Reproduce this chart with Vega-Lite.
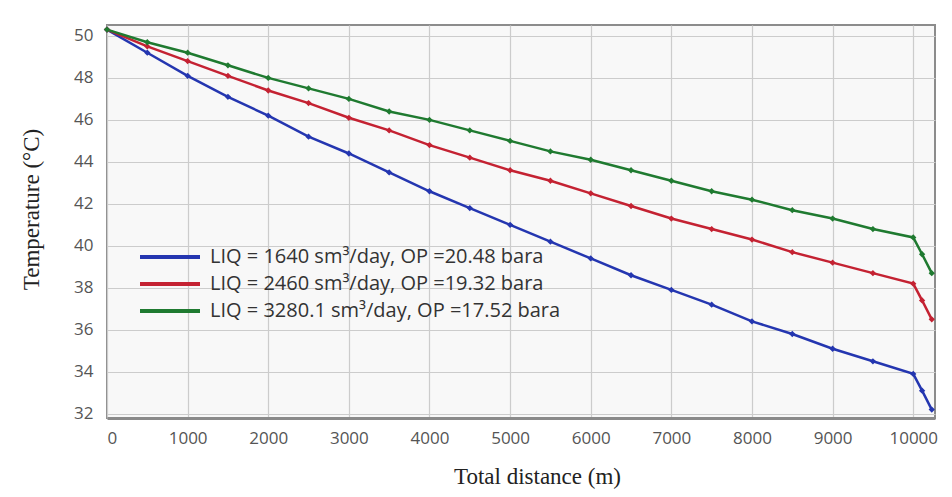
{
  "$schema": "https://vega.github.io/schema/vega-lite/v6.json",
  "autosize": {"type": "none"},
  "width": 828,
  "height": 393,
  "padding": {"left": 107, "top": 25, "right": 17, "bottom": 79},
  "background": "white",
  "config": {
    "view": {"stroke": "#8c8c8c", "strokeWidth": 2, "fill": "#f8f8f8"},
    "axis": {
      "labelFont": "Open Sans", "labelFontSize": 17, "labelColor": "#555555",
      "titleFont": "Liberation Serif", "titleFontSize": 23, "titleFontWeight": "normal", "titleColor": "#222222",
      "gridColor": "#cccccc", "gridWidth": 1.2, "ticks": false, "domain": false
    },
    "legend": {"labelFont": "Open Sans", "labelFontSize": 20, "labelColor": "#333333", "labelLimit": 0}
  },
  "data": {"values": [
    {"d": 0, "t": 50.3, "s": "LIQ = 1640 sm³/day, OP =20.48 bara"},
    {"d": 500, "t": 49.2, "s": "LIQ = 1640 sm³/day, OP =20.48 bara"},
    {"d": 1000, "t": 48.1, "s": "LIQ = 1640 sm³/day, OP =20.48 bara"},
    {"d": 1500, "t": 47.1, "s": "LIQ = 1640 sm³/day, OP =20.48 bara"},
    {"d": 2000, "t": 46.2, "s": "LIQ = 1640 sm³/day, OP =20.48 bara"},
    {"d": 2500, "t": 45.2, "s": "LIQ = 1640 sm³/day, OP =20.48 bara"},
    {"d": 3000, "t": 44.4, "s": "LIQ = 1640 sm³/day, OP =20.48 bara"},
    {"d": 3500, "t": 43.5, "s": "LIQ = 1640 sm³/day, OP =20.48 bara"},
    {"d": 4000, "t": 42.6, "s": "LIQ = 1640 sm³/day, OP =20.48 bara"},
    {"d": 4500, "t": 41.8, "s": "LIQ = 1640 sm³/day, OP =20.48 bara"},
    {"d": 5000, "t": 41.0, "s": "LIQ = 1640 sm³/day, OP =20.48 bara"},
    {"d": 5500, "t": 40.2, "s": "LIQ = 1640 sm³/day, OP =20.48 bara"},
    {"d": 6000, "t": 39.4, "s": "LIQ = 1640 sm³/day, OP =20.48 bara"},
    {"d": 6500, "t": 38.6, "s": "LIQ = 1640 sm³/day, OP =20.48 bara"},
    {"d": 7000, "t": 37.9, "s": "LIQ = 1640 sm³/day, OP =20.48 bara"},
    {"d": 7500, "t": 37.2, "s": "LIQ = 1640 sm³/day, OP =20.48 bara"},
    {"d": 8000, "t": 36.4, "s": "LIQ = 1640 sm³/day, OP =20.48 bara"},
    {"d": 8500, "t": 35.8, "s": "LIQ = 1640 sm³/day, OP =20.48 bara"},
    {"d": 9000, "t": 35.1, "s": "LIQ = 1640 sm³/day, OP =20.48 bara"},
    {"d": 9500, "t": 34.5, "s": "LIQ = 1640 sm³/day, OP =20.48 bara"},
    {"d": 10000, "t": 33.9, "s": "LIQ = 1640 sm³/day, OP =20.48 bara"},
    {"d": 10110, "t": 33.1, "s": "LIQ = 1640 sm³/day, OP =20.48 bara"},
    {"d": 10230, "t": 32.2, "s": "LIQ = 1640 sm³/day, OP =20.48 bara"},
    {"d": 0, "t": 50.3, "s": "LIQ = 2460 sm³/day, OP =19.32 bara"},
    {"d": 500, "t": 49.5, "s": "LIQ = 2460 sm³/day, OP =19.32 bara"},
    {"d": 1000, "t": 48.8, "s": "LIQ = 2460 sm³/day, OP =19.32 bara"},
    {"d": 1500, "t": 48.1, "s": "LIQ = 2460 sm³/day, OP =19.32 bara"},
    {"d": 2000, "t": 47.4, "s": "LIQ = 2460 sm³/day, OP =19.32 bara"},
    {"d": 2500, "t": 46.8, "s": "LIQ = 2460 sm³/day, OP =19.32 bara"},
    {"d": 3000, "t": 46.1, "s": "LIQ = 2460 sm³/day, OP =19.32 bara"},
    {"d": 3500, "t": 45.5, "s": "LIQ = 2460 sm³/day, OP =19.32 bara"},
    {"d": 4000, "t": 44.8, "s": "LIQ = 2460 sm³/day, OP =19.32 bara"},
    {"d": 4500, "t": 44.2, "s": "LIQ = 2460 sm³/day, OP =19.32 bara"},
    {"d": 5000, "t": 43.6, "s": "LIQ = 2460 sm³/day, OP =19.32 bara"},
    {"d": 5500, "t": 43.1, "s": "LIQ = 2460 sm³/day, OP =19.32 bara"},
    {"d": 6000, "t": 42.5, "s": "LIQ = 2460 sm³/day, OP =19.32 bara"},
    {"d": 6500, "t": 41.9, "s": "LIQ = 2460 sm³/day, OP =19.32 bara"},
    {"d": 7000, "t": 41.3, "s": "LIQ = 2460 sm³/day, OP =19.32 bara"},
    {"d": 7500, "t": 40.8, "s": "LIQ = 2460 sm³/day, OP =19.32 bara"},
    {"d": 8000, "t": 40.3, "s": "LIQ = 2460 sm³/day, OP =19.32 bara"},
    {"d": 8500, "t": 39.7, "s": "LIQ = 2460 sm³/day, OP =19.32 bara"},
    {"d": 9000, "t": 39.2, "s": "LIQ = 2460 sm³/day, OP =19.32 bara"},
    {"d": 9500, "t": 38.7, "s": "LIQ = 2460 sm³/day, OP =19.32 bara"},
    {"d": 10000, "t": 38.2, "s": "LIQ = 2460 sm³/day, OP =19.32 bara"},
    {"d": 10110, "t": 37.4, "s": "LIQ = 2460 sm³/day, OP =19.32 bara"},
    {"d": 10230, "t": 36.5, "s": "LIQ = 2460 sm³/day, OP =19.32 bara"},
    {"d": 0, "t": 50.3, "s": "LIQ = 3280.1 sm³/day, OP =17.52 bara"},
    {"d": 500, "t": 49.7, "s": "LIQ = 3280.1 sm³/day, OP =17.52 bara"},
    {"d": 1000, "t": 49.2, "s": "LIQ = 3280.1 sm³/day, OP =17.52 bara"},
    {"d": 1500, "t": 48.6, "s": "LIQ = 3280.1 sm³/day, OP =17.52 bara"},
    {"d": 2000, "t": 48.0, "s": "LIQ = 3280.1 sm³/day, OP =17.52 bara"},
    {"d": 2500, "t": 47.5, "s": "LIQ = 3280.1 sm³/day, OP =17.52 bara"},
    {"d": 3000, "t": 47.0, "s": "LIQ = 3280.1 sm³/day, OP =17.52 bara"},
    {"d": 3500, "t": 46.4, "s": "LIQ = 3280.1 sm³/day, OP =17.52 bara"},
    {"d": 4000, "t": 46.0, "s": "LIQ = 3280.1 sm³/day, OP =17.52 bara"},
    {"d": 4500, "t": 45.5, "s": "LIQ = 3280.1 sm³/day, OP =17.52 bara"},
    {"d": 5000, "t": 45.0, "s": "LIQ = 3280.1 sm³/day, OP =17.52 bara"},
    {"d": 5500, "t": 44.5, "s": "LIQ = 3280.1 sm³/day, OP =17.52 bara"},
    {"d": 6000, "t": 44.1, "s": "LIQ = 3280.1 sm³/day, OP =17.52 bara"},
    {"d": 6500, "t": 43.6, "s": "LIQ = 3280.1 sm³/day, OP =17.52 bara"},
    {"d": 7000, "t": 43.1, "s": "LIQ = 3280.1 sm³/day, OP =17.52 bara"},
    {"d": 7500, "t": 42.6, "s": "LIQ = 3280.1 sm³/day, OP =17.52 bara"},
    {"d": 8000, "t": 42.2, "s": "LIQ = 3280.1 sm³/day, OP =17.52 bara"},
    {"d": 8500, "t": 41.7, "s": "LIQ = 3280.1 sm³/day, OP =17.52 bara"},
    {"d": 9000, "t": 41.3, "s": "LIQ = 3280.1 sm³/day, OP =17.52 bara"},
    {"d": 9500, "t": 40.8, "s": "LIQ = 3280.1 sm³/day, OP =17.52 bara"},
    {"d": 10000, "t": 40.4, "s": "LIQ = 3280.1 sm³/day, OP =17.52 bara"},
    {"d": 10110, "t": 39.6, "s": "LIQ = 3280.1 sm³/day, OP =17.52 bara"},
    {"d": 10230, "t": 38.7, "s": "LIQ = 3280.1 sm³/day, OP =17.52 bara"}
  ]},
  "encoding": {
    "x": {"field": "d", "type": "quantitative", "title": "Total distance (m)",
      "scale": {"domain": [0, 10270], "nice": false, "zero": false},
      "axis": {"values": [0,1000,2000,3000,4000,5000,6000,7000,8000,9000,10000], "format": "d", "labelPadding": 12, "titlePadding": 19, "titleX": 430, "titleAlign": "center", "domain": true, "domainColor": "#8a8a8a", "domainWidth": 3}},
    "y": {"field": "t", "type": "quantitative", "title": "Temperature (°C)",
      "scale": {"domain": [31.8, 50.52], "nice": false, "zero": false},
      "axis": {"values": [32,34,36,38,40,42,44,46,48,50], "labelPadding": 14, "titlePadding": 30, "titleY": 184, "titleAlign": "center"}},
    "color": {"field": "s", "type": "nominal", "title": null,
      "scale": {"domain": ["LIQ = 1640 sm³/day, OP =20.48 bara", "LIQ = 2460 sm³/day, OP =19.32 bara", "LIQ = 3280.1 sm³/day, OP =17.52 bara"],
                "range": ["#2436b0", "#c42232", "#1f7a30"]},
      "legend": {"orient": "none", "legendX": 51, "legendY": 220, "symbolType": "M-3,0H3", "symbolSize": 400, "symbolStrokeWidth": 4, "symbolFillColor": "transparent", "rowPadding": 5, "labelOffset": 28}}
  },
  "layer": [
    {"mark": {"type": "line", "strokeWidth": 2.5}},
    {"mark": {"type": "point", "shape": "diamond", "size": 40, "filled": true, "opacity": 1}}
  ]
}
